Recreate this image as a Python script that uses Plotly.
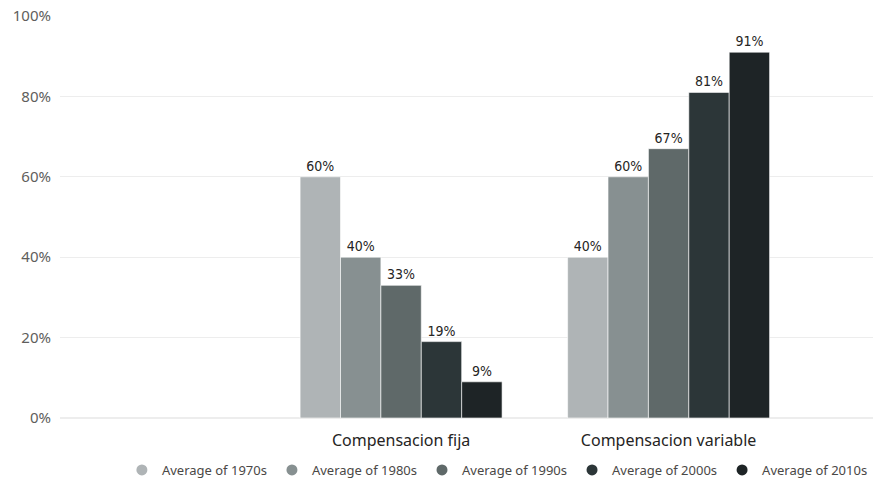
import plotly.graph_objects as go

categories = ["Compensacion fija", "Compensacion variable"]
series_names = ["Average of 1970s", "Average of 1980s", "Average of 1990s", "Average of 2000s", "Average of 2010s"]
v1970s = [0.60, 0.40]
v1980s = [0.40, 0.60]
v1990s = [0.33, 0.67]
v2000s = [0.19, 0.81]
v2010s = [0.09, 0.91]
colors = ["#AFB4B6", "#879091", "#5F6969", "#2C3638", "#1E2426"]
y_ticks = [0, 0.2, 0.4, 0.6, 0.8, 1.0]

series_values = [v1970s, v1980s, v1990s, v2000s, v2010s]

fig = go.Figure()
for name, vals, col in zip(series_names, series_values, colors):
    fig.add_trace(go.Bar(
        x=categories, y=vals, name=name, showlegend=False,
        marker=dict(color=col, line=dict(color="white", width=0.6)),
        text=vals, texttemplate="%{y:.0%}", textposition="outside",
        textfont=dict(family="DejaVu Sans Condensed, DejaVu Sans", size=14, color="#252423"),
        cliponaxis=False,
    ))
for name, col in zip(series_names, colors):
    fig.add_trace(go.Scatter(
        x=[None], y=[None], mode="markers", name=name,
        marker=dict(symbol="circle", size=11, color=col),
    ))

fig.update_layout(
    width=873, height=483,
    margin=dict(l=60, r=0, t=16, b=65, autoexpand=False),
    paper_bgcolor="white", plot_bgcolor="white",
    barmode="group", bargap=0.245, bargroupgap=0,
    font=dict(family="Noto Sans", color="#605E5C"),
    showlegend=True,
    legend=dict(orientation="h", x=0.538, xanchor="center", yref="container", y=0.027, yanchor="middle",
                font=dict(family="Noto Sans", size=13, color="#4A4846"),
                itemwidth=30, tracegroupgap=0),
    xaxis=dict(type="category", range=[-1.275, 1.764], showgrid=False, zeroline=False,
               showline=False, ticks="", tickfont=dict(size=16, color="#252423"),
               ticklabelstandoff=11, automargin=False),
    yaxis=dict(range=[0, 1.0], tickvals=y_ticks, tickformat=".0%", showgrid=True,
               gridcolor="#EDEDED", gridwidth=1, zeroline=True, zerolinecolor="#EDEDED",
               showline=False, ticks="", tickfont=dict(size=15, color="#605E5C"),
               ticklabelstandoff=8, automargin=False),
)

fig.write_html("out.html")
